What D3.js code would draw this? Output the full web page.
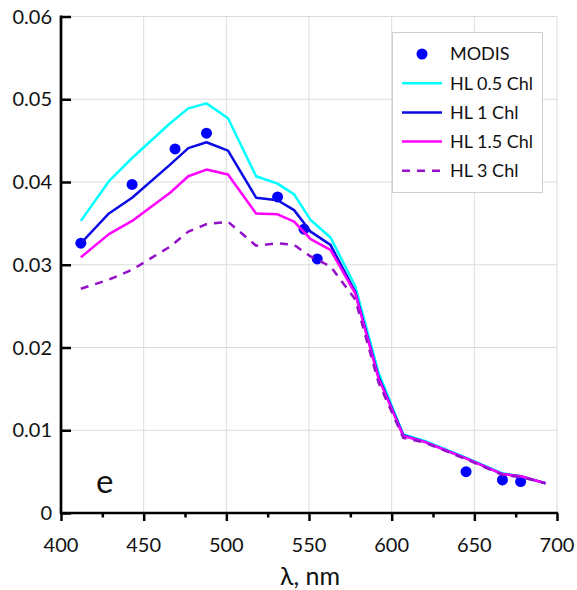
<!DOCTYPE html>
<html>
<head>
<meta charset="utf-8">
<script src="https://cdn.jsdelivr.net/npm/d3@7"></script>
<style>
  body { margin: 0; background: #fff; }
  text { font-family: Lato, "Open Sans", sans-serif; fill: #111; }
</style>
</head>
<body>
<div id="chart"></div>
<script>
    // wavelengths of the model curves, nm
    var wavelengths = [412, 429, 443, 466, 477, 488, 501, 518, 531, 541, 551, 563, 578, 592, 607, 620, 645, 667, 679, 693];
    var hl05 = [0.0353, 0.0401, 0.0429, 0.0471, 0.0489, 0.0495, 0.0477, 0.0407, 0.0398, 0.0385, 0.0354, 0.0333, 0.0274, 0.0170, 0.0095, 0.0087, 0.0067, 0.0048, 0.0044, 0.0036];
    var hl1 = [0.0326, 0.0362, 0.0381, 0.0421, 0.0441, 0.0448, 0.0438, 0.0381, 0.0378, 0.0366, 0.0340, 0.0324, 0.0267, 0.0165, 0.0094, 0.0086, 0.0066, 0.0047, 0.0044, 0.0036];
    var hl15 = [0.0309, 0.0337, 0.0353, 0.0387, 0.0407, 0.0415, 0.0409, 0.0362, 0.0361, 0.0352, 0.0331, 0.0318, 0.0265, 0.0163, 0.0093, 0.0086, 0.0066, 0.0047, 0.0044, 0.0036];
    var hl3 = [0.0271, 0.0282, 0.0294, 0.0322, 0.0340, 0.0349, 0.0352, 0.0323, 0.0326, 0.0324, 0.0310, 0.0298, 0.0258, 0.0158, 0.0091, 0.0085, 0.0065, 0.0046, 0.0043, 0.0036];

    // MODIS bands
    var modisBands = [412, 443, 469, 488, 531, 547, 555, 645, 667, 678];
    var modisValues = [0.0326, 0.0397, 0.0440, 0.0459, 0.0382, 0.0343, 0.0307, 0.0050, 0.0040, 0.0038];

    var xTicks = [400, 450, 500, 550, 600, 650, 700];
    var yTicks = [0, 0.01, 0.02, 0.03, 0.04, 0.05, 0.06];

(function () {
    'use strict';

    var series = [
        { label: 'HL 0.5 Chl', values: hl05, color: '#00ffff', dash: null },
        { label: 'HL 1 Chl', values: hl1, color: '#0a0ae6', dash: null },
        { label: 'HL 1.5 Chl', values: hl15, color: '#ff00ff', dash: null },
        { label: 'HL 3 Chl', values: hl3, color: '#9410c8', dash: '8,7' }
    ];

    var width = 577, height = 590;
    var plotLeft = 61, plotRight = 557, plotTop = 16.5, plotBottom = 513;

    var svg = d3.select('#chart').append('svg')
        .attr('width', width)
        .attr('height', height);

    var x = d3.scaleLinear().domain([400, 700]).range([plotLeft, plotRight]);
    var y = d3.scaleLinear().domain([0, 0.06]).range([plotBottom, plotTop]);

    //grid
    svg.append('g').selectAll('line')
        .data(xTicks.slice(1)).enter()
        .append('line')
        .attr('x1', function (d) { return x(d); })
        .attr('x2', function (d) { return x(d); })
        .attr('y1', plotTop).attr('y2', plotBottom)
        .attr('stroke', '#dcdcdc').attr('stroke-width', 1);
    svg.append('g').selectAll('line')
        .data(yTicks.slice(1)).enter()
        .append('line')
        .attr('y1', function (d) { return y(d); })
        .attr('y2', function (d) { return y(d); })
        .attr('x1', plotLeft).attr('x2', plotRight)
        .attr('stroke', '#dcdcdc').attr('stroke-width', 1);

    // MODIS dots under the lines
    svg.append('g').selectAll('circle')
        .data(modisBands).enter()
        .append('circle')
        .attr('cx', function (d) { return x(d); })
        .attr('cy', function (d, i) { return y(modisValues[i]); })
        .attr('r', 5.5)
        .attr('fill', '#0000ff');

    var line = d3.line()
        .x(function (d, i) { return x(wavelengths[i]); })
        .y(function (d) { return y(d); });

    svg.append('g').selectAll('path')
        .data(series).enter()
        .append('path')
        .attr('d', function (s) { return line(s.values); })
        .attr('fill', 'none')
        .attr('stroke', function (s) { return s.color; })
        .attr('stroke-width', 2.5)
        .attr('stroke-dasharray', function (s) { return s.dash; })
        .attr('stroke-linejoin', 'round');

    //x axis
    var xAxis = svg.append('g')
        .attr('transform', 'translate(0,' + plotBottom + ')')
        .call(d3.axisBottom(x).tickValues(d3.range(400, 701, 25))
            .tickSize(0).tickFormat(''));
    xAxis.select('.domain').remove();
    xAxis.selectAll('.tick line')
        .attr('y2', function (d) { return d % 50 === 0 ? 8 : 4.5; })
        .attr('stroke', '#000').attr('stroke-width', 2.5);
    svg.append('g').selectAll('text')
        .data(xTicks).enter()
        .append('text')
        .attr('x', function (d) { return x(d); })
        .attr('y', 552)
        .attr('text-anchor', 'middle')
        .style('font-size', '20px')
        .text(function (d) { return d; });

    //y axis
    var yAxis = svg.append('g')
        .attr('transform', 'translate(' + plotLeft + ',0)')
        .call(d3.axisRight(y).tickValues(yTicks).tickSize(10).tickFormat(''));
    yAxis.select('.domain').remove();
    yAxis.selectAll('.tick line').attr('stroke', '#000').attr('stroke-width', 2.5);
    svg.append('g').selectAll('text')
        .data(yTicks).enter()
        .append('text')
        .attr('x', 52)
        .attr('y', function (d) { return y(d); })
        .attr('dy', '0.35em')
        .attr('text-anchor', 'end')
        .style('font-size', '20px')
        .text(function (d) { return d === 0 ? '0' : d3.format('.2f')(d); });

    svg.append('line')
        .attr('x1', plotLeft).attr('x2', plotLeft)
        .attr('y1', plotTop - 1).attr('y2', plotBottom + 1)
        .attr('stroke', '#000').attr('stroke-width', 2.7);
    svg.append('line')
        .attr('x1', plotLeft - 1).attr('x2', plotRight + 1)
        .attr('y1', plotBottom).attr('y2', plotBottom)
        .attr('stroke', '#000').attr('stroke-width', 2.7);

    svg.append('text')
        .attr('x', 310).attr('y', 585)
        .attr('text-anchor', 'middle')
        .style('font-size', '25px')
        .text('λ, nm');

    svg.append('text')
        .attr('x', 96).attr('y', 493)
        .style('font-size', '33px')
        .text('e');

    // legend
    var legend = svg.append('g');
    legend.append('rect')
        .attr('x', 392.5).attr('y', 32.5)
        .attr('width', 150).attr('height', 160)
        .attr('fill', '#fff').attr('stroke', '#cfcfcf').attr('stroke-width', 1);

    var rows = [{ label: 'MODIS', dot: true }].concat(series);
    var item = legend.selectAll('g.item')
        .data(rows).enter()
        .append('g')
        .attr('class', 'item')
        .attr('transform', function (d, i) { return 'translate(0,' + (54 + i * 29.2) + ')'; });
    item.filter(function (d) { return d.dot; })
        .append('circle')
        .attr('cx', 422).attr('cy', 0).attr('r', 5.5).attr('fill', '#0000ff');
    item.filter(function (d) { return !d.dot; })
        .append('line')
        .attr('x1', 402).attr('x2', 442)
        .attr('stroke', function (d) { return d.color; })
        .attr('stroke-width', 2.5)
        .attr('stroke-dasharray', function (d) { return d.dash; });
    item.append('text')
        .attr('x', 450).attr('dy', '0.36em')
        .style('font-size', '18px')
        .text(function (d) { return d.label; });
})();
</script>
</body>
</html>
